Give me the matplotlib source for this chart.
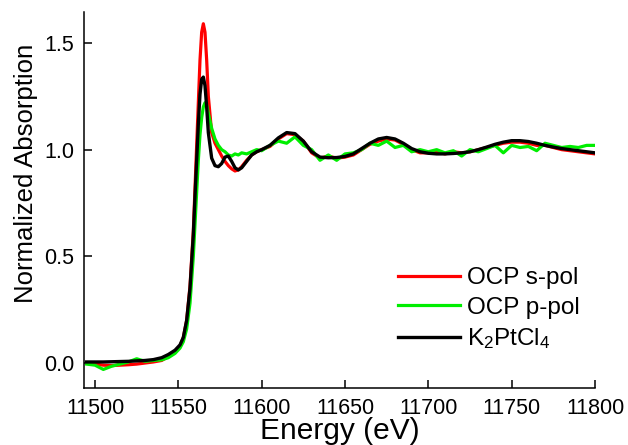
import matplotlib
matplotlib.use("Agg")
import matplotlib.pyplot as plt

plt.rcParams['font.family'] = ['Liberation Sans', 'DejaVu Sans']
plt.rcParams['mathtext.fontset'] = 'custom'
plt.rcParams['mathtext.rm'] = 'Liberation Sans'
plt.rcParams['mathtext.it'] = 'Liberation Sans'
plt.rcParams['mathtext.default'] = 'regular'

energy = [11495, 11500, 11505, 11510, 11515, 11520, 11525, 11530, 11535, 11540,
          11544, 11548, 11551, 11553, 11555, 11557, 11559,
          11560, 11561, 11562, 11563, 11564, 11565, 11566, 11567, 11568,
          11570, 11572, 11574, 11576, 11578, 11580, 11582, 11584, 11586, 11588,
          11591, 11594, 11597, 11600,
          11605, 11610, 11615, 11620, 11625, 11630, 11635, 11640, 11645, 11650,
          11655, 11660, 11665, 11670, 11675, 11680, 11685, 11690, 11695, 11700,
          11705, 11710, 11715, 11720, 11725, 11730, 11735, 11740, 11745, 11750,
          11755, 11760, 11765, 11770, 11775, 11780, 11785, 11790, 11795, 11800]

s_pol = [0.0, -0.005, -0.01, -0.012, -0.01, -0.008, -0.005, 0.0, 0.005, 0.012,
         0.03, 0.055, 0.08, 0.12, 0.2, 0.36, 0.62,
         0.82, 1.02, 1.22, 1.42, 1.55, 1.59, 1.55, 1.42, 1.25,
         1.08, 1.03, 1.0, 0.97, 0.945, 0.925, 0.91, 0.9, 0.905, 0.92,
         0.95, 0.975, 0.99, 1.0,
         1.015, 1.05, 1.075, 1.07, 1.04, 0.985, 0.96, 0.97, 0.96, 0.965,
         0.975, 1.0, 1.025, 1.04, 1.05, 1.045, 1.025, 1.0, 0.985, 0.985,
         0.99, 0.98, 0.99, 0.985, 0.99, 1.0, 1.01, 1.02, 1.03, 1.035,
         1.035, 1.03, 1.02, 1.02, 1.01, 1.0, 0.995, 0.99, 0.985, 0.98]

p_pol = [-0.005, -0.01, -0.03, -0.015, -0.005, 0.005, 0.02, 0.008, 0.012, 0.015,
         0.025, 0.045, 0.07, 0.1, 0.16, 0.28, 0.5,
         0.65, 0.8, 0.95, 1.07, 1.15, 1.2, 1.22, 1.21, 1.17,
         1.1, 1.05, 1.02, 1.0, 0.99, 0.975, 0.97, 0.98, 0.975, 0.985,
         0.98, 0.99, 1.0, 0.995,
         1.02, 1.04, 1.03, 1.06, 1.02, 1.0, 0.95, 0.975, 0.95, 0.98,
         0.985, 1.0, 1.03, 1.02, 1.04, 1.01, 1.02, 0.99, 1.0, 0.99,
         1.0, 0.985, 0.995, 0.97, 1.0, 0.99, 1.005, 1.02, 0.985, 1.02,
         1.01, 1.015, 0.995, 1.03, 1.02, 1.01, 1.015, 1.01, 1.02, 1.02]

k2ptcl4 = [0.005, 0.005, 0.005, 0.006, 0.007, 0.008, 0.01, 0.012, 0.016, 0.025,
           0.04, 0.06, 0.085, 0.12, 0.2, 0.35, 0.6,
           0.78, 0.95, 1.12, 1.26, 1.33, 1.34, 1.30, 1.2, 1.08,
           0.96, 0.925, 0.92, 0.935, 0.965, 0.97, 0.945, 0.915, 0.905, 0.915,
           0.945, 0.975, 0.99, 1.0,
           1.02, 1.055, 1.08, 1.075, 1.04, 0.99, 0.965, 0.962, 0.963, 0.968,
           0.98, 1.005, 1.03, 1.05, 1.057, 1.05, 1.03, 1.005, 0.99, 0.983,
           0.98, 0.98, 0.982, 0.985, 0.99, 1.0, 1.012, 1.025, 1.035, 1.042,
           1.042, 1.038, 1.03, 1.02, 1.012, 1.005, 1.0, 0.995, 0.99, 0.985]

labels = ['OCP s-pol', 'OCP p-pol', 'K$_2$PtCl$_4$']
colors = ['#FF0000', '#00EE00', '#000000']
xticks = [11500, 11550, 11600, 11650, 11700, 11750, 11800]
yticks = [0.0, 0.5, 1.0, 1.5]

fig = plt.figure(figsize=(6.28, 4.45), dpi=100)
ax = fig.add_axes([84/628, (445-388)/445, (595-84)/628, (388-12)/445])

ax.plot(energy, s_pol, color=colors[0], lw=2.3, label=labels[0])
ax.plot(energy, p_pol, color=colors[1], lw=2.3, label=labels[1])
ax.plot(energy, k2ptcl4, color=colors[2], lw=2.4, label=labels[2])

ax.set_xlim(11493.4, 11800)
ax.set_ylim(-0.117, 1.645)
ax.set_xticks(xticks)
ax.set_yticks(yticks)
ax.set_yticklabels([f"{v:.1f}" for v in yticks])
ax.spines['top'].set_visible(False)
ax.spines['right'].set_visible(False)
for s in ['left', 'bottom']:
    ax.spines[s].set_linewidth(1.1)
ax.tick_params(axis='both', direction='in', length=6, width=1.1, labelsize=15.5, pad=7)

ax.set_xlabel('Energy (eV)', fontsize=21.5, labelpad=-1)
ax.set_ylabel('Normalized Absorption', fontsize=18.5)
ax.yaxis.set_label_coords((38 - 84) / 511, (388 - 173) / 376)

ax.legend(loc='upper left', bbox_to_anchor=((398-84)/511, (388-267)/376),
          frameon=False, fontsize=17.5, handlelength=2.55, handletextpad=0.3,
          borderpad=0, borderaxespad=0, labelspacing=0.32)

fig.savefig('out.png', dpi=100)
